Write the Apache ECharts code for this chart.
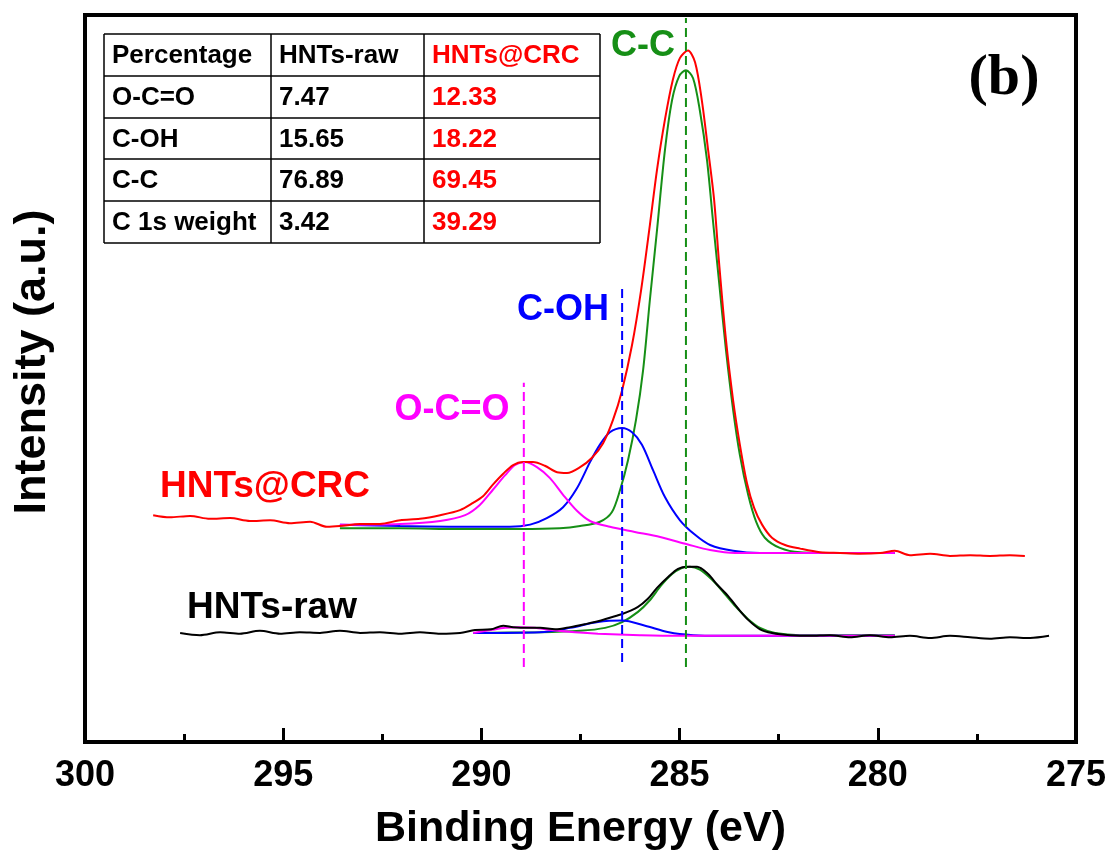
<!DOCTYPE html>
<html>
<head>
<meta charset="utf-8">
<title>C 1s XPS</title>
<script src="https://cdn.jsdelivr.net/npm/echarts@6/dist/echarts.min.js"></script>
<style>
  html, body { margin: 0; padding: 0; background: #fff; }
  #chart { width: 1111px; height: 858px; }
</style>
</head>
<body>
<div id="chart"></div>
<script>
// binding energy (eV), intensity (a.u.)
const crcTotal = [
  [298.28, 31.2], [297.86, 30.9], [297.35, 31.1], [296.85, 30.7], [296.34, 30.8],
  [295.84, 30.4], [295.33, 30.5], [294.83, 30.1], [294.32, 30.3], [293.90, 29.6],
  [293.57, 29.7], [293.06, 30.0], [292.56, 30.0], [292.05, 30.5], [291.55, 30.7],
  [291.04, 31.2], [290.54, 31.9], [290.21, 32.9], [289.96, 33.8], [289.71, 35.4],
  [289.45, 36.9], [289.20, 38.1], [288.95, 38.5], [288.70, 38.5], [288.40, 38.0],
  [288.09, 37.1], [287.84, 37.0], [287.51, 37.8], [287.21, 39.1], [286.93, 41.1],
  [286.68, 44.3], [286.45, 48.4], [286.20, 54.6], [285.97, 62.2], [285.75, 71.1],
  [285.57, 78.7], [285.37, 85.6], [285.17, 91.1], [284.99, 94.1], [284.79, 95.1],
  [284.61, 93.5], [284.44, 88.3], [284.28, 81.4], [284.13, 74.6], [284.01, 66.3],
  [283.83, 55.3], [283.65, 47.0], [283.48, 40.9], [283.30, 35.6], [283.12, 32.2],
  [282.92, 29.9], [282.67, 28.1], [282.34, 27.1], [281.96, 26.6], [281.46, 26.1],
  [280.95, 26.0], [280.45, 25.9], [279.94, 26.0], [279.57, 26.3], [279.19, 25.7],
  [278.68, 25.9], [278.18, 25.6], [277.67, 25.7], [277.17, 25.6], [276.67, 25.7],
  [276.29, 25.6]
];
const crcCC = [
  [293.57, 29.4], [292.05, 29.4], [290.54, 29.3], [289.03, 29.3], [288.02, 29.4],
  [287.51, 29.7], [287.01, 30.3], [286.71, 31.6], [286.50, 34.7], [286.30, 38.8],
  [286.10, 44.3], [285.92, 51.2], [285.75, 60.8], [285.57, 70.4], [285.37, 81.4],
  [285.19, 88.3], [285.01, 91.6], [284.84, 92.4], [284.66, 91.3], [284.49, 86.9],
  [284.31, 80.1], [284.16, 71.8], [284.01, 63.6], [283.83, 53.9], [283.65, 45.7],
  [283.48, 39.5], [283.27, 34.0], [283.07, 30.3], [282.85, 28.1], [282.47, 26.7],
  [281.96, 26.1], [280.95, 26.0], [279.57, 26.0]
];
const crcCOH = [
  [293.57, 29.9], [292.05, 29.7], [290.54, 29.6], [289.28, 29.6], [288.77, 29.9],
  [288.35, 30.8], [287.94, 32.3], [287.59, 34.9], [287.26, 38.5], [287.01, 40.9],
  [286.76, 42.6], [286.45, 43.2], [286.20, 42.6], [285.95, 40.9], [285.67, 37.4],
  [285.37, 33.7], [284.99, 30.5], [284.61, 28.5], [284.23, 27.1], [283.65, 26.3],
  [282.97, 26.0], [279.57, 26.0]
];
const crcOCO = [
  [293.57, 29.9], [292.05, 30.0], [291.04, 30.4], [290.41, 31.2], [290.04, 32.6],
  [289.71, 34.7], [289.40, 36.7], [289.15, 38.1], [288.90, 38.5], [288.60, 37.8],
  [288.27, 36.3], [287.94, 34.0], [287.59, 31.8], [287.26, 30.4], [286.76, 29.6],
  [286.13, 28.9], [285.49, 28.2], [284.81, 27.2], [284.23, 26.4], [283.60, 26.0],
  [279.57, 26.0]
];
const rawTotal = [
  [297.60, 15.0], [297.10, 14.7], [296.59, 15.1], [296.09, 14.9], [295.59, 15.3],
  [295.08, 14.9], [294.58, 15.1], [294.07, 15.0], [293.57, 15.3], [293.06, 15.0],
  [292.56, 15.1], [292.05, 14.9], [291.55, 15.1], [291.04, 14.9], [290.54, 15.0],
  [290.16, 15.4], [289.76, 15.5], [289.45, 16.0], [289.20, 15.8], [288.85, 15.7],
  [288.52, 15.7], [288.14, 15.5], [287.76, 15.8], [287.39, 16.2], [287.06, 16.6],
  [286.76, 17.1], [286.45, 17.6], [286.05, 18.6], [285.80, 19.7], [285.57, 21.2],
  [285.27, 22.8], [285.04, 23.8], [284.81, 24.1], [284.56, 24.1], [284.28, 23.1],
  [284.06, 21.7], [283.78, 20.1], [283.53, 18.4], [283.27, 16.8], [282.97, 15.5],
  [282.67, 15.0], [282.21, 14.7], [281.71, 14.6], [281.21, 14.7], [280.70, 14.4],
  [280.20, 14.7], [279.69, 14.4], [279.19, 14.6], [278.68, 14.3], [278.18, 14.6],
  [277.67, 14.4], [277.17, 14.2], [276.67, 14.4], [276.16, 14.3], [275.68, 14.6]
];
const rawCC = [
  [290.21, 15.0], [288.52, 15.1], [287.51, 15.3], [286.88, 15.7], [286.45, 16.5],
  [286.05, 17.9], [285.75, 19.5], [285.47, 21.5], [285.19, 23.1], [284.96, 23.9],
  [284.74, 24.1], [284.49, 23.7], [284.18, 22.3], [283.88, 20.5], [283.58, 18.6],
  [283.27, 16.9], [282.97, 15.7], [282.59, 15.0], [281.96, 14.7], [279.57, 14.7]
];
const rawCOH = [
  [290.21, 15.0], [288.52, 15.1], [287.76, 15.7], [287.06, 16.5], [286.45, 16.7],
  [285.87, 16.0], [285.27, 15.1], [284.66, 14.7], [283.98, 14.6], [279.57, 14.6]
];
const rawOCO = [
  [290.21, 15.0], [289.76, 15.4], [289.40, 15.7], [289.05, 15.8], [288.65, 15.7],
  [288.24, 15.4], [287.64, 15.1], [287.06, 14.9], [286.00, 14.7], [285.07, 14.6],
  [279.57, 14.6]
];
// peak position markers: [energy, bottom, top]
const ocoMark = [288.93, 10.3, 49.4];
const cohMark = [286.45, 11.0, 62.5];
const ccMark = [284.84, 10.3, 99.6];

const xTicks = [275, 300, 5];
const tableHeader = ['Percentage', 'HNTs-raw', 'HNTs@CRC'];
const tableRowNames = ['O-C=O', 'C-OH', 'C-C', 'C 1s weight'];
const rawShares = ['7.47', '15.65', '76.89', '3.42'];
const crcShares = ['12.33', '18.22', '69.45', '39.29'];

const FONT = '"Liberation Sans", Arial, sans-serif';
const GREEN = '#168f16';

function curve(name, data, color) {
  return {
    name: name, type: 'line', data: data, showSymbol: false,
    smooth: 0.3,
    lineStyle: { color: color, width: 2 }, itemStyle: { color: color },
    silent: true
  };
}
function marker(name, m, color) {
  return {
    name: name, type: 'line', data: [[m[0], m[1]], [m[0], m[2]]], showSymbol: false,
    lineStyle: { color: color, width: 2, type: [9, 5] }, silent: true, z: 5
  };
}
function label(text, x, y, size, color, extra) {
  return Object.assign({
    type: 'text', x: x, y: y, silent: true, z: 20,
    style: {
      text: text, fill: color, font: 'bold ' + size + 'px ' + FONT,
      textAlign: 'center', textVerticalAlign: 'middle', align: 'center', verticalAlign: 'middle'
    }
  }, extra || {});
}

// table drawn with graphic elements
const colX = [104, 271, 424, 600];
const rowY = [34, 76, 118, 159, 201, 243];
const tableEls = [];
rowY.forEach(function (y) {
  tableEls.push({ type: 'line', shape: { x1: colX[0], y1: y, x2: colX[3], y2: y }, style: { stroke: '#000', lineWidth: 1.5 } });
});
colX.forEach(function (x) {
  tableEls.push({ type: 'line', shape: { x1: x, y1: rowY[0], x2: x, y2: rowY[5] }, style: { stroke: '#000', lineWidth: 1.5 } });
});
const cells = [tableHeader].concat(tableRowNames.map(function (n, i) { return [n, rawShares[i], crcShares[i]]; }));
cells.forEach(function (row, r) {
  row.forEach(function (txt, c) {
    tableEls.push({
      type: 'text', x: colX[c] + 8, y: (rowY[r] + rowY[r + 1]) / 2 + 1,
      style: {
        text: txt, fill: c === 2 ? '#f00' : '#000', font: 'bold 26px ' + FONT,
        textAlign: 'left', textVerticalAlign: 'middle', align: 'left', verticalAlign: 'middle'
      }
    });
  });
});

const chart = echarts.init(document.getElementById('chart'));
chart.setOption({
  animation: false,
  backgroundColor: '#fff',
  grid: { left: 85, right: 35, top: 15, bottom: 116, show: true, borderWidth: 4, borderColor: '#000' },
  xAxis: {
    type: 'value', inverse: true, min: xTicks[0], max: xTicks[1], interval: xTicks[2],
    name: 'Binding Energy (eV)', nameLocation: 'middle', nameGap: 66,
    nameTextStyle: { fontSize: 43, fontWeight: 'bold', fontFamily: FONT, color: '#000' },
    axisLine: { show: true, lineStyle: { color: '#000', width: 4 } },
    axisTick: { show: true, inside: true, length: 14, lineStyle: { color: '#000', width: 3 } },
    minorTick: { show: true, splitNumber: 2, length: 8, lineStyle: { color: '#000', width: 3 } },
    axisLabel: { margin: 16, fontSize: 36, fontWeight: 'bold', fontFamily: FONT, color: '#000' },
    splitLine: { show: false }
  },
  yAxis: {
    type: 'value', min: 0, max: 100,
    axisLine: { show: false }, axisTick: { show: false }, axisLabel: { show: false },
    splitLine: { show: false }
  },
  series: [
    curve('HNTs-raw C-C', rawCC, GREEN),
    curve('HNTs-raw C-OH', rawCOH, '#0000ff'),
    curve('HNTs-raw O-C=O', rawOCO, '#ff00ff'),
    curve('HNTs-raw', rawTotal, '#000'),
    curve('HNTs@CRC C-C', crcCC, GREEN),
    curve('HNTs@CRC C-OH', crcCOH, '#0000ff'),
    curve('HNTs@CRC O-C=O', crcOCO, '#ff00ff'),
    curve('HNTs@CRC', crcTotal, '#ff0000'),
    marker('O-C=O peak', ocoMark, '#ff00ff'),
    marker('C-OH peak', cohMark, '#0000ff'),
    marker('C-C peak', ccMark, GREEN)
  ],
  graphic: [
    label('Intensity (a.u.)', 33, 362, 45, '#000', { rotation: Math.PI / 2 }),
    label('C-C', 643, 46, 36, GREEN),
    label('C-OH', 563, 310, 36, '#0000ff'),
    label('O-C=O', 452, 410, 36, '#ff00ff'),
    label('HNTs@CRC', 265, 487, 37, '#ff0000'),
    label('HNTs-raw', 272, 608, 37, '#000'),
    {
      type: 'text', x: 1004, y: 79, silent: true, z: 20,
      style: {
        text: '(b)', fill: '#000', font: 'bold 58px "Liberation Serif", "Times New Roman", serif',
        textAlign: 'center', textVerticalAlign: 'middle', align: 'center', verticalAlign: 'middle'
      }
    },
    { type: 'group', silent: true, z: 15, children: tableEls }
  ]
});
</script>
</body>
</html>
